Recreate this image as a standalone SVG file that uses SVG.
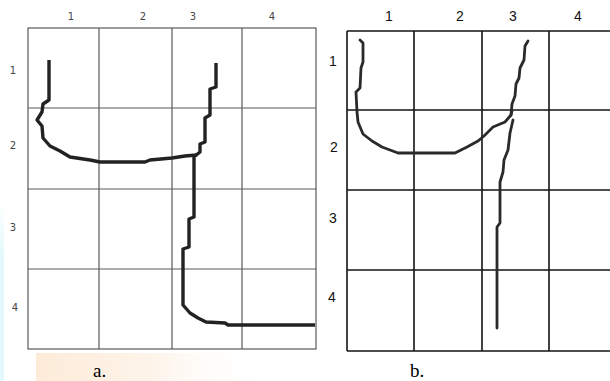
<svg xmlns="http://www.w3.org/2000/svg" width="610" height="381" viewBox="0 0 610 381">
<defs>
<linearGradient id="peach" x1="0" y1="0" x2="1" y2="0">
<stop offset="0" stop-color="#fde9d4" stop-opacity="0.9"/>
<stop offset="0.5" stop-color="#fdf1e4" stop-opacity="0.8"/>
<stop offset="1" stop-color="#fff" stop-opacity="0"/>
</linearGradient>
<linearGradient id="cyan" x1="0" y1="0" x2="0" y2="1">
<stop offset="0" stop-color="#e6fafc" stop-opacity="0"/>
<stop offset="0.3" stop-color="#e2f8fb"/>
<stop offset="1" stop-color="#e2f8fb"/>
</linearGradient>
</defs>
<style>
.ga{fill:none;stroke:#5a5a5a;stroke-width:1.2}
.gb{fill:none;stroke:#151515;stroke-width:1.6}
.sa{fill:none;stroke:#222;stroke-width:3.4;stroke-linejoin:round;stroke-linecap:butt}
.sb{fill:none;stroke:#2a2a2a;stroke-width:2.8;stroke-linejoin:round;stroke-linecap:round}
.la{font-family:"DejaVu Sans",sans-serif;font-size:10px;fill:#444;text-anchor:middle}
.lb{font-family:"Liberation Sans",Arial,sans-serif;font-size:14px;fill:#111;text-anchor:middle}
.cap{font-family:"Liberation Serif","Times New Roman",serif;font-size:19px;fill:#000}
</style>
<rect width="610" height="381" fill="#fff"/>
<g id="background">
<rect x="0" y="200" width="4" height="181" fill="url(#cyan)"/>
<rect x="36" y="353" width="230" height="28" fill="url(#peach)"/>
</g>
<g id="grid-a">
<rect class="ga" x="28" y="28" width="288" height="321"/>
<path class="ga" d="M99 28V349M172 28V349M242 28V349M28 108H316M28 189H316M28 269H316"/>
</g>
<g id="labels-a">
<text class="la" x="71" y="20">1</text>
<text class="la" x="143" y="20">2</text>
<text class="la" x="193" y="20">3</text>
<text class="la" x="272" y="20">4</text>
<text class="la" x="13" y="74">1</text>
<text class="la" x="13" y="149">2</text>
<text class="la" x="13" y="231">3</text>
<text class="la" x="15" y="311">4</text>
</g>
<g id="stroke-a">
<path class="sa" d="M49 60V100L43 104L42 112L37 120L42 126L43 138L50 146L60 151L70 157L90 160L100 162L145 162L150 160L172 158L185 156L197 155"/>
<path class="sa" d="M216 63V87L210 89V115L205 118V142L200 144V152L195 156"/>
<path class="sa" d="M194 155V217L189 219V247L183 249V305L190 313L198 318L206 322L225 323L228 325H315"/>
</g>
<g id="grid-b">
<path class="gb" d="M347 31V351M414 31V351M482 31V351M549 31V351M347 31H610M347 110H610M347 190H610M347 270H610M347 351H610"/>
</g>
<g id="labels-b">
<text class="lb" x="389" y="21">1</text>
<text class="lb" x="460" y="21">2</text>
<text class="lb" x="513" y="21">3</text>
<text class="lb" x="578" y="21">4</text>
<text class="lb" x="333" y="66">1</text>
<text class="lb" x="334" y="152">2</text>
<text class="lb" x="333" y="223">3</text>
<text class="lb" x="332" y="302">4</text>
</g>
<g id="stroke-b">
<path class="sb" d="M360 40L363 43V62L361 68L360 88L356 92L357 112L358 122L363 134L372 141L382 147L398 153L455 153L467 147L478 141L484 136L493 127L505 122L511 115L512 111"/>
<path class="sb" d="M528 41L525 46L524 60L520 68L519 78L516 84L515 96L512 104L511 115"/>
<path class="sb" d="M513 120L510 133L508 150L504 160L503 172L500 182V223L497 227V328"/>
</g>
<g id="captions">
<text class="cap" x="93" y="377">a.</text>
<text class="cap" x="410" y="377">b.</text>
</g>
</svg>
